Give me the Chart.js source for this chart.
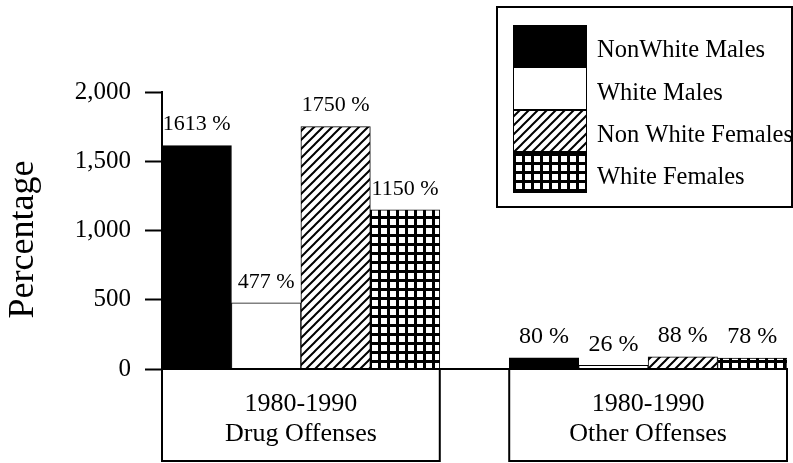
<!DOCTYPE html>
<html><head><meta charset="utf-8">
<script src="https://cdn.jsdelivr.net/npm/chart.js@4"></script>
<style>html,body{margin:0;padding:0;background:#fff;} canvas{display:block;}</style>
</head><body>
<canvas id="c" width="793" height="463"></canvas>
<script>
// ---- data ----
const groupLines = [['1980-1990', 'Drug Offenses'], ['1980-1990', 'Other Offenses']];
const seriesNames = ['NonWhite Males', 'White Males', 'Non White Females', 'White Females'];
const nonWhiteMales = [1613, 80];
const whiteMales = [477, 26];
const nonWhiteFemales = [1750, 88];
const whiteFemales = [1150, 78];
const yTicks = [0, 500, 1000, 1500, 2000];
const yTitle = 'Percentage';

const SERIF = '"Liberation Serif", "Times New Roman", serif';

function makePattern(kind) {
  const t = document.createElement('canvas');
  const s = 9;
  t.width = s; t.height = s;
  const ctx = t.getContext('2d');
  if (kind === 'hatch') {
    ctx.fillStyle = '#fff'; ctx.fillRect(0, 0, s, s);
    ctx.strokeStyle = '#000'; ctx.lineWidth = 2;
    ctx.beginPath();
    for (const k of [0, s, 2 * s]) {
      ctx.moveTo(k + 1, -1);
      ctx.lineTo(k - s - 1, s + 1);
    }
    ctx.stroke();
  } else {
    ctx.fillStyle = '#000'; ctx.fillRect(0, 0, s, s);
    ctx.fillStyle = '#fff'; ctx.fillRect(3, 3, 6, 6);
  }
  return document.getElementById('c').getContext('2d').createPattern(t, 'repeat');
}

const seriesValues = [nonWhiteMales, whiteMales, nonWhiteFemales, whiteFemales];
const fills = ['#000', '#fff', makePattern('hatch'), makePattern('grid')];

// 9 slots: 4 bars for group 0, a gap, 4 bars for group 1
const slotCount = seriesNames.length * groupLines.length + (groupLines.length - 1);
const slotLabels = [];
for (let i = 0; i < slotCount; i++) {
  const g = Math.floor(i / (seriesNames.length + 1));
  const s = i % (seriesNames.length + 1);
  slotLabels.push(s < seriesNames.length ? groupLines[g].join(' ') + ' - ' + seriesNames[s] : 'gap' + g);
}
const datasets = seriesNames.map((name, k) => {
  const data = [];
  for (let i = 0; i < slotCount; i++) {
    const g = Math.floor(i / (seriesNames.length + 1));
    const s = i % (seriesNames.length + 1);
    data.push(s === k ? seriesValues[k][g] : null);
  }
  return { label: name, data, backgroundColor: fills[k], borderColor: '#000', borderWidth: 1 };
});

const overlay = {
  id: 'overlay',
  beforeDraw(chart) {
    const ctx = chart.ctx;
    ctx.save(); ctx.fillStyle = '#fff'; ctx.fillRect(0, 0, chart.width, chart.height); ctx.restore();
  },
  afterDraw(chart) {
    const ctx = chart.ctx;
    const xs = chart.scales.x;
    const area = chart.chartArea;
    const w = (area.right - area.left) / slotCount;
    ctx.save();
    ctx.fillStyle = '#000';
    // y axis title
    ctx.save();
    ctx.translate(24, (area.top + area.bottom) / 2 + 9);
    ctx.rotate(-Math.PI / 2);
    ctx.textAlign = 'center';
    ctx.textBaseline = 'middle';
    ctx.font = '36px ' + SERIF;
    ctx.fillText(yTitle, 0, 0);
    ctx.restore();
    // value labels
    ctx.textAlign = 'center';
    ctx.textBaseline = 'middle';
    datasets.forEach((ds, k) => {
      const meta = chart.getDatasetMeta(k);
      ds.data.forEach((v, i) => {
        if (v === null) return;
        const el = meta.data[i];
        const g = Math.floor(i / (seriesNames.length + 1));
        ctx.font = (g === 0 ? 22 : 24) + 'px ' + SERIF;
        ctx.fillText(v + ' %', el.x, el.y - 21);
      });
    });
    // category boxes
    ctx.strokeStyle = '#000';
    ctx.lineWidth = 2;
    ctx.font = '26px ' + SERIF;
    groupLines.forEach((lines, g) => {
      const first = g * (seriesNames.length + 1);
      const last = first + seriesNames.length - 1;
      const l = xs.getPixelForValue(first) - w / 2;
      const r = xs.getPixelForValue(last) + w / 2;
      const top = area.bottom;
      const bottom = 461;
      ctx.strokeRect(l, top, r - l, bottom - top);
      ctx.fillText(lines[0], (l + r) / 2, top + 35);
      ctx.fillText(lines[1], (l + r) / 2, top + 65);
    });
    // legend
    ctx.strokeRect(497, 7, 295, 200);
    const swY = [25, 67, 110, 152, 193];
    ctx.textAlign = 'left';
    ctx.font = '24.5px ' + SERIF;
    seriesNames.forEach((name, k) => {
      const y0 = swY[k], y1 = swY[k + 1];
      ctx.fillStyle = fills[k];
      ctx.fillRect(513, y0, 74, y1 - y0);
      ctx.lineWidth = 1;
      ctx.strokeRect(513.5, y0 + 0.5, 73, y1 - y0 - 1);
      ctx.fillStyle = '#000';
      ctx.fillText(name, 597, (y0 + y1) / 2 + 5);
    });
    ctx.restore();
  }
};

new Chart(document.getElementById('c'), {
  type: 'bar',
  data: { labels: slotLabels, datasets },
  options: {
    responsive: false,
    animation: false,
    devicePixelRatio: 1,
    layout: { padding: { top: 92, right: 6, left: 0, bottom: 0 } },
    datasets: { bar: { barPercentage: 1, categoryPercentage: 1, skipNull: true } },
    plugins: { legend: { display: false }, tooltip: { enabled: false } },
    scales: {
      x: {
        type: 'category',
        grid: { display: false },
        ticks: { display: false },
        border: { display: true, color: '#000', width: 2 },
        afterFit(s) { s.height = 94; }
      },
      y: {
        min: yTicks[0],
        max: yTicks[yTicks.length - 1],
        afterBuildTicks(s) { s.ticks = yTicks.map(v => ({ value: v })); },
        ticks: { font: { family: SERIF, size: 25 }, color: '#000', padding: 14 },
        grid: { drawOnChartArea: false, drawTicks: true, tickLength: 17, tickWidth: 2, tickColor: '#000' },
        border: { display: true, color: '#000', width: 2 },
        afterFit(s) { s.width = 162; }
      }
    }
  },
  plugins: [overlay]
});
</script>
</body></html>
